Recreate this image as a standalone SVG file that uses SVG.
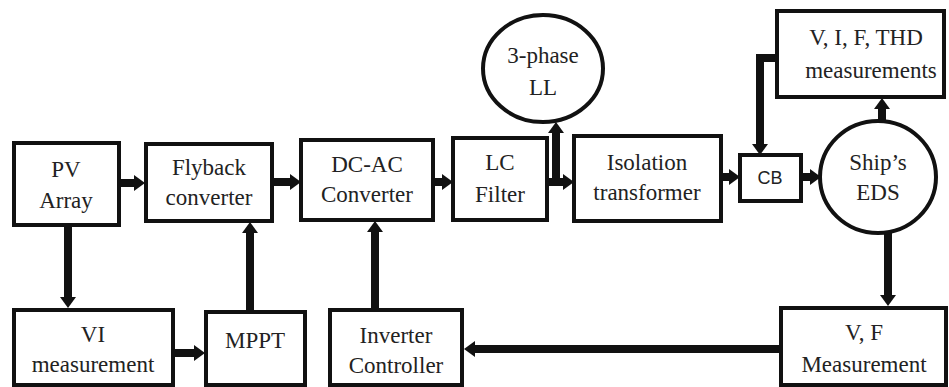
<svg xmlns="http://www.w3.org/2000/svg" width="949" height="387" viewBox="0 0 949 387">
<style>
.box{fill:#fff;stroke:#111;stroke-width:4}
.t{font-size:23px;fill:#222;text-anchor:middle}
.s{font-size:18px;fill:#222;text-anchor:middle}
.c{fill:none;stroke:#111;stroke-width:8}
</style>
<defs>
<marker id="ah" markerUnits="userSpaceOnUse" markerWidth="11" markerHeight="16" refX="0" refY="8" orient="auto">
<path d="M0,0 L11,8 L0,16 z" fill="#111"/>
</marker>
</defs>
<rect width="949" height="387" fill="#fff"/>
<g id="connectors">
<line class="c" x1="119" y1="183" x2="134" y2="183" marker-end="url(#ah)"/>
<line class="c" x1="272" y1="182" x2="290" y2="182" marker-end="url(#ah)"/>
<line class="c" x1="433" y1="182" x2="442" y2="182" marker-end="url(#ah)"/>
<line class="c" x1="547" y1="182" x2="563" y2="182" marker-end="url(#ah)"/>
<line class="c" x1="556" y1="186" x2="556" y2="133" marker-end="url(#ah)"/>
<line class="c" x1="721" y1="177" x2="729" y2="177" marker-end="url(#ah)"/>
<line class="c" x1="801" y1="177" x2="810" y2="177" marker-end="url(#ah)"/>
<path class="c" d="M778,58 H760 V144" marker-end="url(#ah)"/>
<line class="c" x1="882" y1="122" x2="882" y2="109" marker-end="url(#ah)"/>
<line class="c" x1="68" y1="225" x2="68" y2="297" marker-end="url(#ah)"/>
<line class="c" x1="173" y1="353" x2="194" y2="353" marker-end="url(#ah)"/>
<line class="c" x1="250" y1="312" x2="250" y2="233" marker-end="url(#ah)"/>
<line class="c" x1="375" y1="310" x2="375" y2="232" marker-end="url(#ah)"/>
<line class="c" x1="780" y1="349" x2="475" y2="349" marker-end="url(#ah)"/>
<line class="c" x1="888" y1="232" x2="888" y2="295" marker-end="url(#ah)"/>
</g>
<g font-family="'Liberation Serif', 'DejaVu Serif', serif">
<g id="pv"><rect class="box" x="14" y="143" width="105" height="82"/><text class="t" x="66" y="177">PV</text><text class="t" x="66" y="208">Array</text></g>
<g id="flyback"><rect class="box" x="146" y="144" width="126" height="77"/><text class="t" x="209" y="175">Flyback</text><text class="t" x="209" y="205">converter</text></g>
<g id="dcac"><rect class="box" x="301" y="140" width="132" height="80"/><text class="t" x="367" y="172">DC-AC</text><text class="t" x="367" y="202">Converter</text></g>
<g id="lc"><rect class="box" x="453" y="138" width="94" height="82"/><text class="t" x="500" y="170">LC</text><text class="t" x="500" y="202">Filter</text></g>
<g id="ll"><ellipse class="box" cx="543" cy="68.5" rx="60" ry="53.5"/><text class="t" x="543" y="63">3-phase</text><text class="t" x="543" y="95">LL</text></g>
<g id="iso"><rect class="box" x="574" y="136" width="147" height="85"/><text class="t" x="647" y="170">Isolation</text><text class="t" x="647" y="200">transformer</text></g>
<g id="cb"><rect class="box" x="740" y="155" width="61" height="46"/><text class="s" x="770" y="184" font-family="'Liberation Sans', Arial, sans-serif">CB</text></g>
<g id="eds"><ellipse class="box" cx="878" cy="177" rx="58" ry="56"/><text class="t" x="878" y="170">Ship’s</text><text class="t" x="878" y="200">EDS</text></g>
<g id="vif"><rect class="box" x="777" y="11" width="167" height="86"/><text class="t" x="866" y="45" font-size="24">V, I, F, THD</text><text class="t" x="871" y="78" font-size="24">measurements</text></g>
<g id="vi"><rect class="box" x="14" y="310" width="159" height="75"/><text class="t" x="93" y="342">VI</text><text class="t" x="93" y="372">measurement</text></g>
<g id="mppt"><rect class="box" x="206" y="312" width="99" height="73"/><text class="t" x="255" y="348">MPPT</text></g>
<g id="invctrl"><rect class="box" x="330" y="310" width="132" height="75"/><text class="t" x="396" y="343">Inverter</text><text class="t" x="396" y="373">Controller</text></g>
<g id="vf"><rect class="box" x="781" y="308" width="165" height="77"/><text class="t" x="864" y="340">V, F</text><text class="t" x="864" y="372">Measurement</text></g>
</g>
</svg>
